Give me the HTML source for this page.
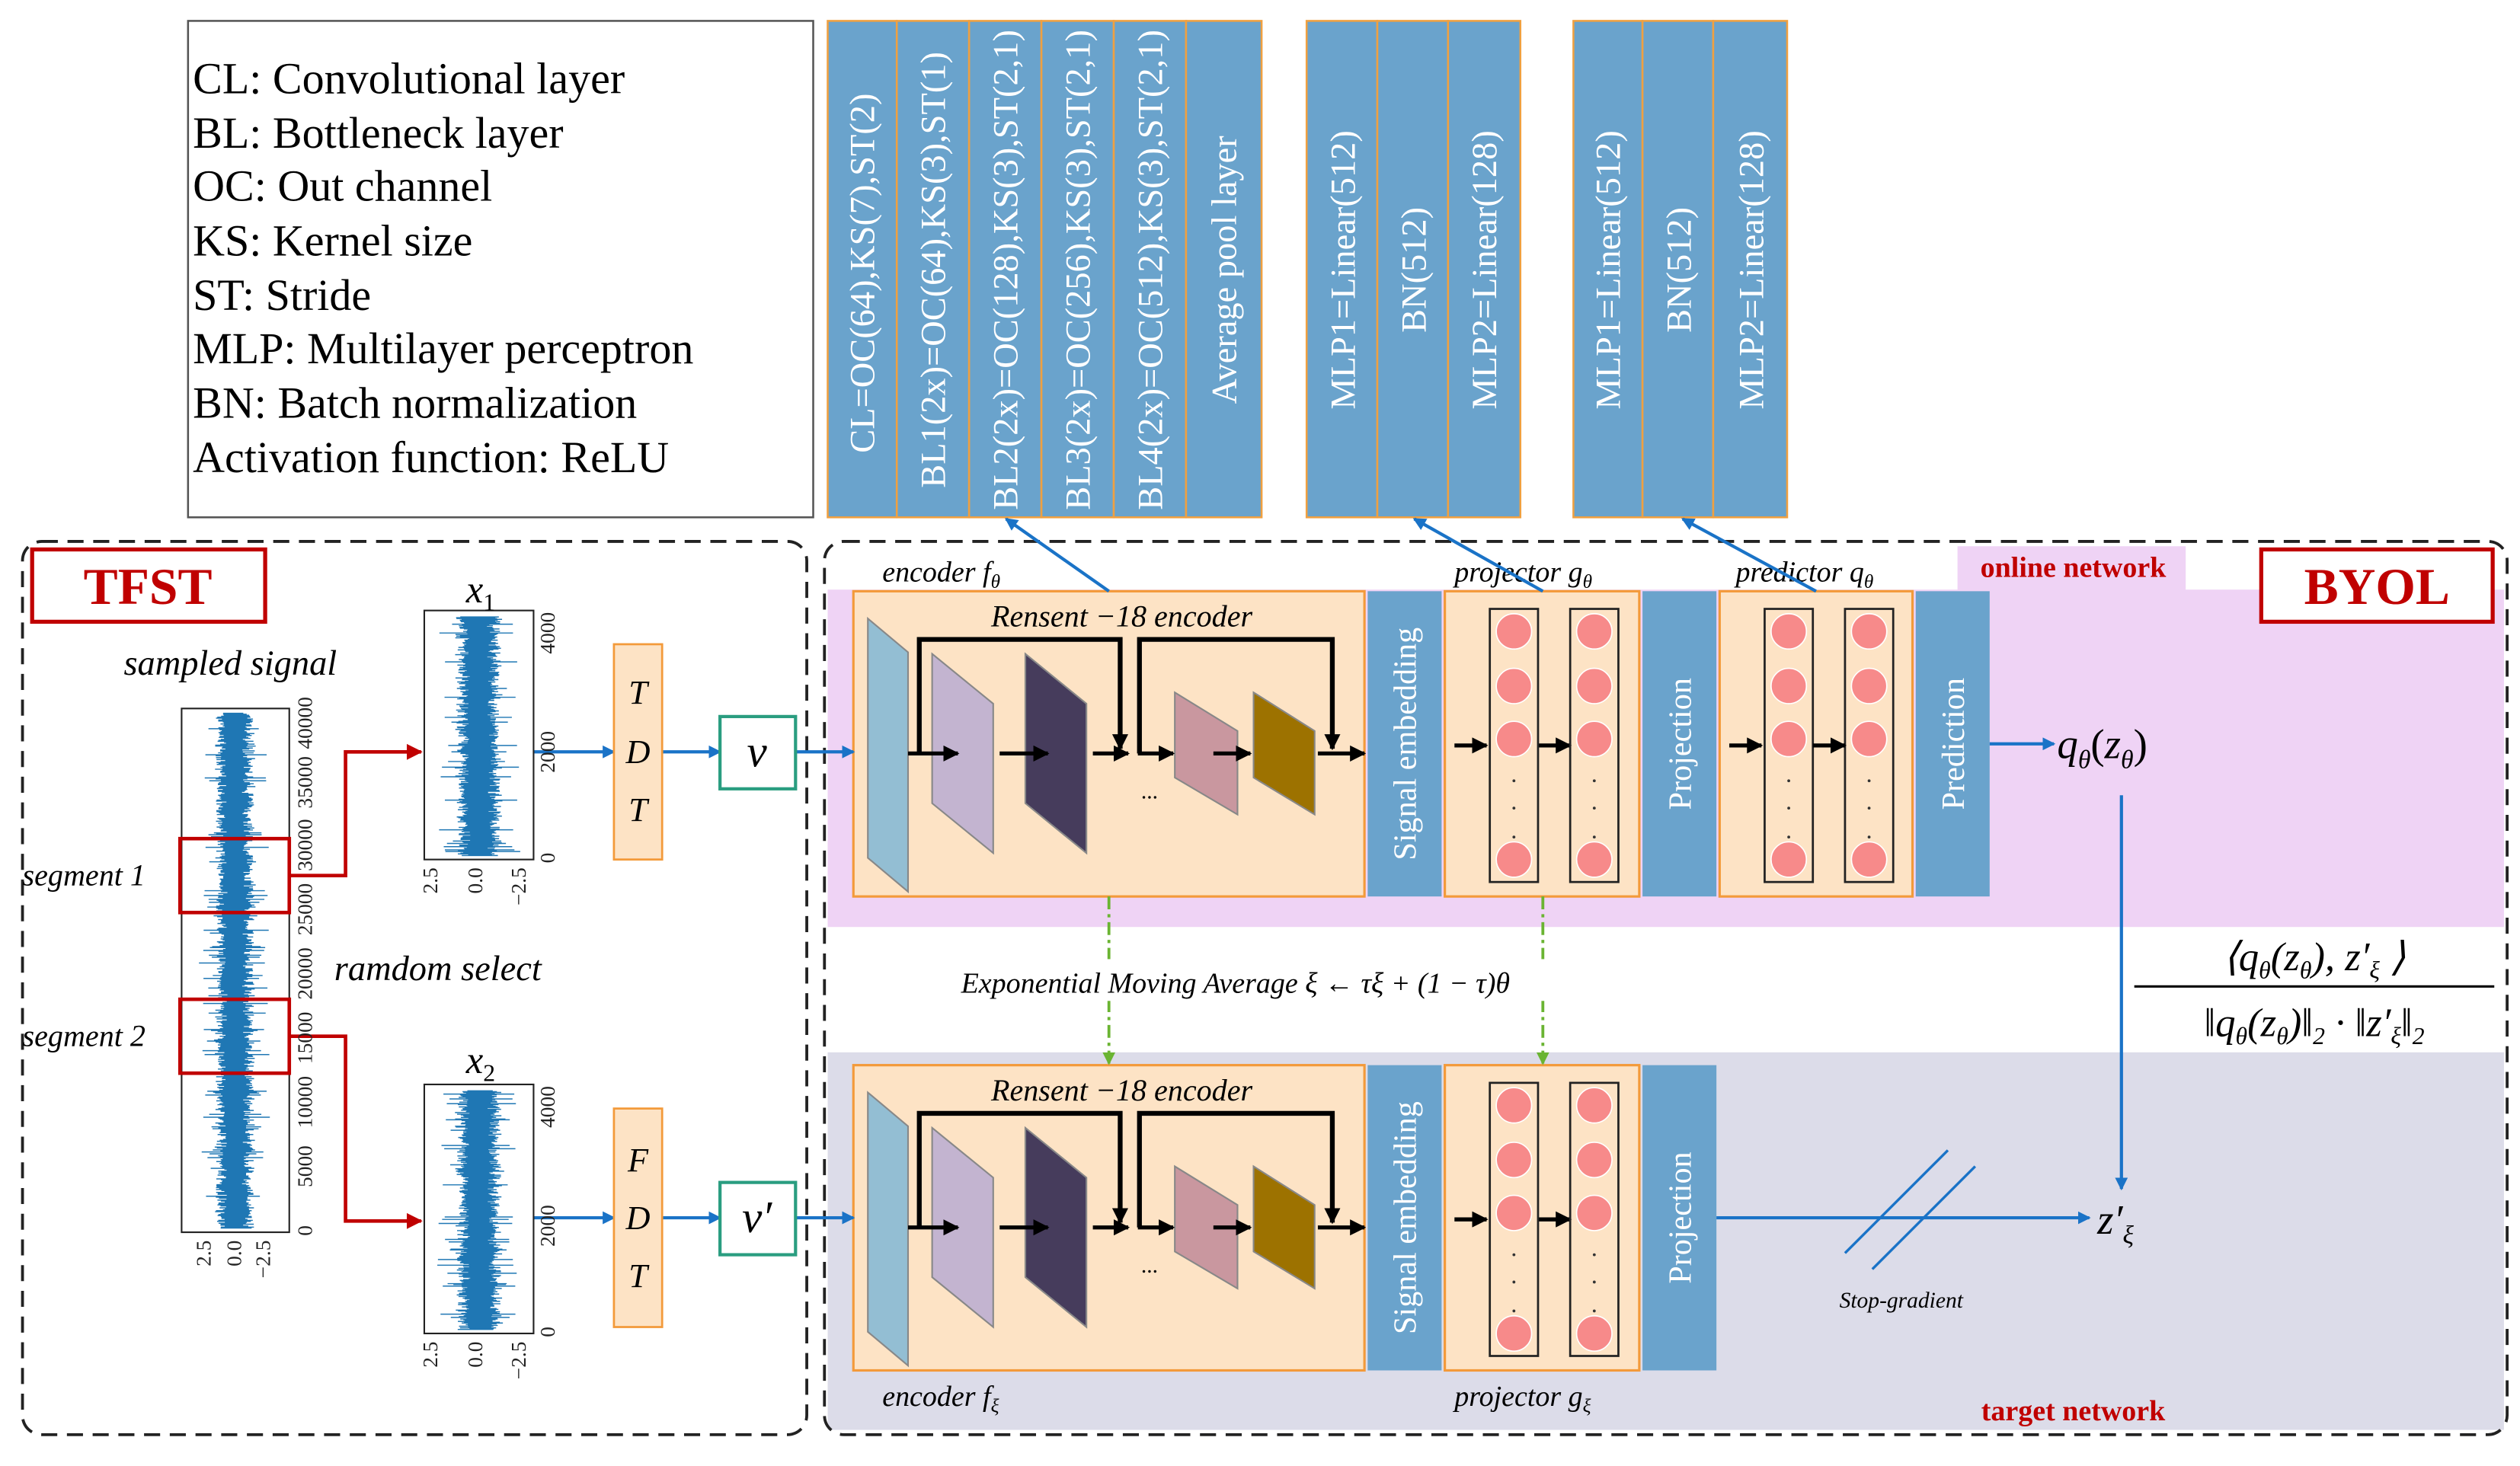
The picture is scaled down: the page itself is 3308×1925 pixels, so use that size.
<!DOCTYPE html>
<html><head><meta charset="utf-8"><style>
html,body{margin:0;padding:0;background:#fff}
svg{display:block}
text{font-family:"Liberation Serif",serif}
.it{font-style:italic}
.w{fill:#fff}
</style></head><body>
<svg id="s" width="3308" height="1925" viewBox="0 0 1568 912.5" preserveAspectRatio="none" xmlns="http://www.w3.org/2000/svg">
<defs>
<marker id="ab" markerWidth="8" markerHeight="8" refX="7" refY="4" orient="auto" markerUnits="userSpaceOnUse"><path d="M0,0 L8,4 L0,8z" fill="#1a73c7"/></marker>
<marker id="ar" markerWidth="10" markerHeight="10" refX="9" refY="5" orient="auto" markerUnits="userSpaceOnUse"><path d="M0,0 L10,5 L0,10z" fill="#c00000"/></marker>
<marker id="ak" markerWidth="10" markerHeight="10" refX="9" refY="5" orient="auto" markerUnits="userSpaceOnUse"><path d="M0,0 L10,5 L0,10z" fill="#000"/></marker>
<marker id="ag" markerWidth="8" markerHeight="8" refX="7" refY="4" orient="auto" markerUnits="userSpaceOnUse"><path d="M0,0 L8,4 L0,8z" fill="#6ab432"/></marker>
</defs>

<!-- legend -->
<rect x="117" y="13" width="389" height="309" fill="#fff" stroke="#555" stroke-width="1.2"/>
<g font-size="27.5" fill="#000">
<text x="120" y="58">CL: Convolutional layer</text>
<text x="120" y="92">BL: Bottleneck layer</text>
<text x="120" y="125">OC: Out channel</text>
<text x="120" y="159">KS: Kernel size</text>
<text x="120" y="193">ST: Stride</text>
<text x="120" y="226">MLP: Multilayer perceptron</text>
<text x="120" y="260">BN: Batch normalization</text>
<text x="120" y="294">Activation function: ReLU</text>
</g>

<!-- top columns -->
<g fill="#6aa3cc" stroke="#f0a040" stroke-width="1.2">
<rect x="515" y="13" width="43" height="309"/><rect x="558" y="13" width="45" height="309"/><rect x="603" y="13" width="45" height="309"/><rect x="648" y="13" width="45" height="309"/><rect x="693" y="13" width="45" height="309"/><rect x="738" y="13" width="47" height="309"/>
<rect x="813" y="13" width="44" height="309"/><rect x="857" y="13" width="44" height="309"/><rect x="901" y="13" width="45" height="309"/>
<rect x="979" y="13" width="43" height="309"/><rect x="1022" y="13" width="44" height="309"/><rect x="1066" y="13" width="46" height="309"/>
</g>
<g font-size="22" class="w" text-anchor="middle">
<text transform="translate(544,170) rotate(-90)">CL=OC(64),KS(7),ST(2)</text>
<text transform="translate(588,168) rotate(-90)">BL1(2x)=OC(64),KS(3),ST(1)</text>
<text transform="translate(633,168) rotate(-90)">BL2(2x)=OC(128),KS(3),ST(2,1)</text>
<text transform="translate(678,168) rotate(-90)">BL3(2x)=OC(256),KS(3),ST(2,1)</text>
<text transform="translate(723,168) rotate(-90)">BL4(2x)=OC(512),KS(3),ST(2,1)</text>
<text transform="translate(769,168) rotate(-90)">Average pool layer</text>
<text transform="translate(843,168) rotate(-90)">MLP1=Linear(512)</text>
<text transform="translate(887,168) rotate(-90)">BN(512)</text>
<text transform="translate(931,168) rotate(-90)">MLP2=Linear(128)</text>
<text transform="translate(1008,168) rotate(-90)">MLP1=Linear(512)</text>
<text transform="translate(1052,168) rotate(-90)">BN(512)</text>
<text transform="translate(1097,168) rotate(-90)">MLP2=Linear(128)</text>
</g>

<!-- regions -->
<rect x="515" y="367" width="1043" height="210" fill="#efd3f5"/>
<rect x="1218" y="340" width="142" height="28" fill="#efd3f5"/>
<rect x="515" y="655" width="1043" height="235" fill="#dcdce9"/>
<rect x="14" y="337" width="488" height="556" rx="12" fill="none" stroke="#222" stroke-width="1.8" stroke-dasharray="10,6"/>
<rect x="513" y="337" width="1047" height="556" rx="12" fill="none" stroke="#222" stroke-width="1.8" stroke-dasharray="10,6"/>
<rect x="20" y="342" width="145" height="45" fill="#fff" stroke="#c00000" stroke-width="2.5"/>
<text x="92" y="376" font-size="32" font-weight="bold" fill="#c00000" text-anchor="middle">TFST</text>
<rect x="1407" y="342" width="144" height="45" fill="#fff" stroke="#c00000" stroke-width="2.5"/>
<text x="1479" y="376" font-size="32" font-weight="bold" fill="#c00000" text-anchor="middle">BYOL</text>
<text x="1290" y="359" font-size="18" font-weight="bold" fill="#c00000" text-anchor="middle">online network</text>
<text x="1290" y="884" font-size="18" font-weight="bold" fill="#c00000" text-anchor="middle">target network</text>

<g id="net">
<rect x="531" y="368" width="318" height="190" fill="#fde3c5" stroke="#f39a3a" stroke-width="1.5"/>
<rect x="851" y="368" width="46" height="190" fill="#6aa3cc"/>
<rect x="899" y="368" width="121" height="190" fill="#fde3c5" stroke="#f39a3a" stroke-width="1.5"/>
<rect x="1022" y="368" width="46" height="190" fill="#6aa3cc"/>
<text x="698" y="390" font-size="19" class="it" text-anchor="middle">Rensent −18 encoder</text>
<text transform="translate(881,463) rotate(-90)" font-size="20" class="w" text-anchor="middle">Signal embedding</text>
<text transform="translate(1052,463) rotate(-90)" font-size="20" class="w" text-anchor="middle">Projection</text>
<path d="M540,385 L565,406 L565,555 L540,534z" fill="#93bed3" stroke="#888" stroke-width="1"/>
<path d="M580,407 L618,438 L618,531 L580,500z" fill="#c3b4d0" stroke="#888" stroke-width="1"/>
<path d="M638,407 L676,438 L676,531 L638,500z" fill="#463c5c" stroke="#888" stroke-width="1"/>
<path d="M731,431 L770,455 L770,507 L731,484z" fill="#c9979f" stroke="#888" stroke-width="1"/>
<path d="M780,431 L818,455 L818,507 L780,484z" fill="#9d7200" stroke="#888" stroke-width="1"/>
<text x="710" y="497" font-size="14">...</text>
<g stroke="#000" stroke-width="2.5" fill="none">
<path d="M565,469 H596" marker-end="url(#ak)"/>
<path d="M622,469 H652" marker-end="url(#ak)"/>
<path d="M680,469 H702" marker-end="url(#ak)"/>
<path d="M708,469 H730" marker-end="url(#ak)"/>
<path d="M755,469 H778" marker-end="url(#ak)"/>
<path d="M820,469 H849" marker-end="url(#ak)"/>
<path d="M572,469 V398 H697 V466" stroke-width="3" marker-end="url(#ak)"/>
<path d="M709,469 V398 H829 V466" stroke-width="3" marker-end="url(#ak)"/>
<path d="M905,464 H925" marker-end="url(#ak)"/>
<path d="M957,464 H977" marker-end="url(#ak)"/>
</g>
<g id="mlp">
<rect x="927" y="379" width="30" height="170" fill="none" stroke="#222" stroke-width="1.3"/>
<rect x="977" y="379" width="30" height="170" fill="none" stroke="#222" stroke-width="1.3"/>
<g fill="#f78a8a" stroke="#fff" stroke-width="0.8">
<circle cx="942" cy="393" r="11"/><circle cx="942" cy="427" r="11"/><circle cx="942" cy="460" r="11"/><circle cx="942" cy="535" r="11"/>
<circle cx="992" cy="393" r="11"/><circle cx="992" cy="427" r="11"/><circle cx="992" cy="460" r="11"/><circle cx="992" cy="535" r="11"/>
</g>
<g fill="#333"><circle cx="942" cy="486" r="0.9"/><circle cx="942" cy="503" r="0.9"/><circle cx="942" cy="521" r="0.9"/><circle cx="992" cy="486" r="0.9"/><circle cx="992" cy="503" r="0.9"/><circle cx="992" cy="521" r="0.9"/></g>
</g>
</g>
<use href="#net" y="295"/>
<rect x="1070" y="368" width="120" height="190" fill="#fde3c5" stroke="#f39a3a" stroke-width="1.5"/>
<rect x="1192" y="368" width="46" height="190" fill="#6aa3cc"/>
<text transform="translate(1222,463) rotate(-90)" font-size="20" class="w" text-anchor="middle">Prediction</text>
<use href="#mlp" x="171"/>
<g stroke="#000" stroke-width="2.5"><path d="M1076,464 H1096" marker-end="url(#ak)"/><path d="M1128,464 H1148" marker-end="url(#ak)"/></g>

<g font-size="18" class="it">
<text x="549" y="362">encoder <tspan>f</tspan><tspan font-size="12" dy="4">θ</tspan></text>
<text x="905" y="362">projector <tspan>g</tspan><tspan font-size="12" dy="4">θ</tspan></text>
<text x="1080" y="362">predictor <tspan>q</tspan><tspan font-size="12" dy="4">θ</tspan></text>
<text x="549" y="875">encoder <tspan>f</tspan><tspan font-size="12" dy="4">ξ</tspan></text>
<text x="905" y="875">projector <tspan>g</tspan><tspan font-size="12" dy="4">ξ</tspan></text>
</g>
<g stroke="#1a73c7" stroke-width="2" fill="none">
<path d="M690,368 L626,323" marker-end="url(#ab)"/>
<path d="M960,368 L880,323" marker-end="url(#ab)"/>
<path d="M1130,368 L1047,323" marker-end="url(#ab)"/>
<path d="M1238,463 H1278" marker-end="url(#ab)"/>
<path d="M1320,495 V740" marker-end="url(#ab)"/>
<path d="M1068,758 H1300" marker-end="url(#ab)"/>
<path d="M332,468 H382" marker-end="url(#ab)"/>
<path d="M412,468 H448" marker-end="url(#ab)"/>
<path d="M495,468 H531" marker-end="url(#ab)"/>
<path d="M332,758 H382" marker-end="url(#ab)"/>
<path d="M412,758 H448" marker-end="url(#ab)"/>
<path d="M495,758 H531" marker-end="url(#ab)"/>
<path d="M1148,780 L1212,716 M1165,790 L1229,726" stroke-width="1.6"/>
</g>
<text x="1183" y="814" font-size="14" class="it" text-anchor="middle">Stop-gradient</text>
<g stroke="#6ab432" stroke-width="1.8" fill="none" stroke-dasharray="8,3,2,3">
<path d="M690,558 V662" marker-end="url(#ag)"/>
<path d="M960,558 V662" marker-end="url(#ag)"/>
</g>
<rect x="596" y="597" width="434" height="26" fill="#fff"/>
<text x="598" y="618" font-size="18" class="it">Exponential Moving Average  ξ ← τξ + (1 − τ)θ</text>
<text x="1280" y="472" font-size="26" class="it">q<tspan font-size="16" dy="6">θ</tspan><tspan dy="-6" font-style="normal">(</tspan>z<tspan font-size="16" dy="6">θ</tspan><tspan dy="-6" font-style="normal">)</tspan></text>
<text x="1305" y="768" font-size="26" class="it">z′<tspan font-size="16" dy="6">ξ</tspan></text>
<text x="1440" y="604" font-size="25" class="it" text-anchor="middle">⟨q<tspan font-size="15" dy="5">θ</tspan><tspan dy="-5">(z</tspan><tspan font-size="15" dy="5">θ</tspan><tspan dy="-5">), z′</tspan><tspan font-size="15" dy="5">ξ</tspan><tspan dy="-5"> ⟩</tspan></text>
<line x1="1328" y1="614" x2="1552" y2="614" stroke="#000" stroke-width="1.5"/>
<text x="1440" y="645" font-size="25" class="it" text-anchor="middle">‖q<tspan font-size="15" dy="5">θ</tspan><tspan dy="-5">(z</tspan><tspan font-size="15" dy="5">θ</tspan><tspan dy="-5">)‖</tspan><tspan font-size="15" dy="5">2</tspan><tspan dy="-5"> · ‖z′</tspan><tspan font-size="15" dy="5">ξ</tspan><tspan dy="-5">‖</tspan><tspan font-size="15" dy="5">2</tspan></text>

<text x="77" y="420" font-size="22" class="it">sampled signal</text>
<text x="208" y="610" font-size="22" class="it">ramdom select</text>
<text x="14" y="551" font-size="19" class="it">segment 1</text>
<text x="14" y="651" font-size="19" class="it">segment 2</text>
<rect x="113" y="441" width="67" height="326" fill="#fff" stroke="#222" stroke-width="1"/>
<g id="n0" stroke="#1f77b4" stroke-width="0.7"></g>
<rect x="264" y="380" width="68" height="155" fill="none" stroke="#222" stroke-width="1"/>
<rect x="264" y="675" width="68" height="155" fill="none" stroke="#222" stroke-width="1"/>
<g id="n1" stroke="#1f77b4" stroke-width="0.7"></g>
<rect x="112" y="522" width="68" height="46" fill="none" stroke="#c00000" stroke-width="2.2"/>
<rect x="112" y="622" width="68" height="46" fill="none" stroke="#c00000" stroke-width="2.2"/>
<g stroke="#c00000" stroke-width="2.2" fill="none">
<path d="M180,545 H215 V468 H262" marker-end="url(#ar)"/>
<path d="M180,645 H215 V760 H262" marker-end="url(#ar)"/>
</g>
<g font-size="13" fill="#222" style="font-family:'Liberation Sans',sans-serif">
<text transform="translate(194,450) rotate(-90)" text-anchor="middle">40000</text>
<text transform="translate(194,487) rotate(-90)" text-anchor="middle">35000</text>
<text transform="translate(194,526) rotate(-90)" text-anchor="middle">30000</text>
<text transform="translate(194,566) rotate(-90)" text-anchor="middle">25000</text>
<text transform="translate(194,606) rotate(-90)" text-anchor="middle">20000</text>
<text transform="translate(194,646) rotate(-90)" text-anchor="middle">15000</text>
<text transform="translate(194,686) rotate(-90)" text-anchor="middle">10000</text>
<text transform="translate(194,726) rotate(-90)" text-anchor="middle">5000</text>
<text transform="translate(194,766) rotate(-90)" text-anchor="middle">0</text>
<text transform="translate(131,772) rotate(-90)" text-anchor="end">2.5</text>
<text transform="translate(150,772) rotate(-90)" text-anchor="end">0.0</text>
<text transform="translate(168,772) rotate(-90)" text-anchor="end">−2.5</text>
<text transform="translate(345,394) rotate(-90)" text-anchor="middle">4000</text>
<text transform="translate(345,468) rotate(-90)" text-anchor="middle">2000</text>
<text transform="translate(345,534) rotate(-90)" text-anchor="middle">0</text>
<text transform="translate(272,540) rotate(-90)" text-anchor="end">2.5</text>
<text transform="translate(300,540) rotate(-90)" text-anchor="end">0.0</text>
<text transform="translate(327,540) rotate(-90)" text-anchor="end">−2.5</text>
<text transform="translate(345,689) rotate(-90)" text-anchor="middle">4000</text>
<text transform="translate(345,763) rotate(-90)" text-anchor="middle">2000</text>
<text transform="translate(345,829) rotate(-90)" text-anchor="middle">0</text>
<text transform="translate(272,835) rotate(-90)" text-anchor="end">2.5</text>
<text transform="translate(300,835) rotate(-90)" text-anchor="end">0.0</text>
<text transform="translate(327,835) rotate(-90)" text-anchor="end">−2.5</text>
</g>
<text x="290" y="375" font-size="24" class="it">x<tspan font-size="15" dy="5" font-style="normal">1</tspan></text>
<text x="290" y="668" font-size="24" class="it">x<tspan font-size="15" dy="5" font-style="normal">2</tspan></text>
<rect x="382" y="401" width="30" height="134" fill="#fde3c5" stroke="#f39a3a" stroke-width="1.3"/>
<rect x="382" y="690" width="30" height="136" fill="#fde3c5" stroke="#f39a3a" stroke-width="1.3"/>
<g font-size="21" class="it" text-anchor="middle">
<text x="397" y="438">T</text><text x="397" y="475">D</text><text x="397" y="511">T</text>
<text x="397" y="729">F</text><text x="397" y="765">D</text><text x="397" y="801">T</text>
</g>
<rect x="448" y="446" width="47" height="45" fill="#fff" stroke="#2a9d80" stroke-width="2"/>
<rect x="448" y="736" width="47" height="45" fill="#fff" stroke="#2a9d80" stroke-width="2"/>
<text x="471" y="477" font-size="28" class="it" text-anchor="middle">v</text>
<text x="471" y="767" font-size="28" class="it" text-anchor="middle">v′</text>
</svg>
<script>
(function(){
var seed=7;function r(){seed=(seed*16807)%2147483647;return seed/2147483647;}
function noise(g,cx,y0,y1,amp,step){var d="";for(var y=y0;y<y1;y+=step){var w=amp*(0.45+0.35*r());if(r()<0.08)w=amp*(0.9+0.6*r());var o=(r()-0.5)*amp*0.3;d+="M"+(cx-w+o).toFixed(1)+","+y.toFixed(1)+"H"+(cx+w+o).toFixed(1);}
var p=document.createElementNS("http://www.w3.org/2000/svg","path");p.setAttribute("d",d);g.appendChild(p);}
var g0=document.getElementById("n0"),g1=document.getElementById("n1");
noise(g0,146,444,765,14,0.6);
noise(g1,298,384,533,16,0.5);
noise(g1,298,679,828,16,0.5);
})();
</script>
</body></html>
